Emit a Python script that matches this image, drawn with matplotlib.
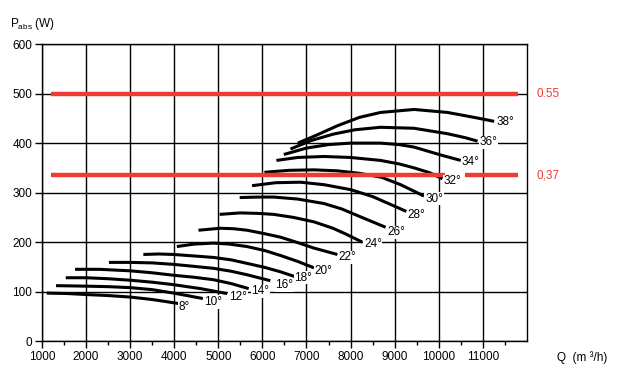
import matplotlib
matplotlib.use("Agg")
import matplotlib.pyplot as plt
from matplotlib.ticker import MultipleLocator

plt.rcParams['font.family'] = ['Liberation Sans', 'DejaVu Sans']
plt.rcParams['mathtext.fontset'] = 'custom'
plt.rcParams['mathtext.rm'] = 'Liberation Sans'

# blade angle curves: Q (m3/h) and absorbed power (W)
angles = ['8°', '10°', '12°', '14°', '16°', '18°', '20°', '22°', '24°', '26°',
          '28°', '30°', '32°', '34°', '36°', '38°']
curve_q = [
    [1110, 1600, 2015, 2500, 3000, 3500, 3800, 4090],
    [1320, 2000, 2500, 3000, 3500, 3984, 4350, 4650],
    [1540, 2000, 2500, 3000, 3500, 3984, 4600, 5200],
    [1750, 2300, 3000, 3500, 3984, 4450, 4893, 5300, 5690],
    [2520, 3000, 3500, 3984, 4450, 4893, 5300, 5652, 6180],
    [3300, 3650, 3984, 4450, 4893, 5300, 5652, 6050, 6409, 6750],
    [4060, 4450, 4893, 5250, 5652, 6050, 6409, 6800, 7170],
    [4550, 5045, 5350, 5652, 6050, 6409, 6800, 7166, 7700],
    [5030, 5500, 5900, 6257, 6700, 7166, 7600, 7900, 8265],
    [5485, 5900, 6257, 6800, 7393, 7800, 8200, 8795],
    [5766, 6300, 6864, 7400, 8000, 8500, 8910, 9265],
    [6045, 6600, 7166, 7700, 8200, 8700, 9136, 9666],
    [6318, 6800, 7393, 8000, 8682, 9100, 9440, 9800, 10083],
    [6485, 7000, 7500, 8000, 8682, 9100, 9440, 10045, 10500],
    [6636, 7100, 7600, 8100, 8682, 9440, 10197, 10600, 10880],
    [6802, 7200, 7700, 8200, 8682, 9440, 10197, 10803, 11257],
]
curve_p = [
    [97, 96, 94, 92, 89, 84, 80, 76],
    [112, 111, 110, 108, 104, 97, 91, 86],
    [128, 128, 126, 123, 119, 114, 106, 96],
    [145, 145, 142, 138, 133, 129, 124, 116, 106],
    [159, 159, 158, 155, 151, 147, 141, 134, 122],
    [175, 176, 175, 172, 169, 164, 157, 149, 140, 130],
    [191, 196, 198, 196, 191, 183, 173, 161, 148],
    [224, 228, 227, 224, 217, 210, 199, 188, 175],
    [256, 259, 258, 256, 250, 241, 228, 216, 200],
    [290, 291, 291, 287, 278, 267, 252, 230],
    [314, 320, 321, 316, 306, 292, 276, 262],
    [341, 345, 346, 344, 339, 331, 316, 293],
    [365, 371, 373, 371, 365, 358, 350, 340, 328],
    [377, 390, 397, 400, 400, 397, 392, 376, 365],
    [388, 405, 418, 427, 432, 430, 419, 411, 404],
    [400, 415, 435, 452, 462, 468, 462, 452, 444],
]
label_q = [4227, 4880, 5447, 5955, 6500, 6925, 7393, 7925, 8507, 9039,
           9493, 9893, 10311, 10727, 11136, 11523]
label_p = [69, 79, 89, 101, 113, 128, 142, 169, 196, 220,
           255, 288, 323, 361, 402, 442]

# motor power limits (kW) as red lines
limit_labels = ['0.55', '0,37']
limit_p = [500, 335]
limit_segments = [[(1200, 11800)], [(1200, 10140), (10600, 11800)]]

red = '#ee3b33'

fig = plt.figure(figsize=(6.17, 3.74), dpi=100)
ax = fig.add_axes([0.068, 0.088, 0.786, 0.794])

ax.set_xlim(1000, 12000)
ax.set_ylim(0, 600)
ax.yaxis.set_major_locator(MultipleLocator(100))
ax.set_xticks(range(1000, 12000, 1000))
ax.set_xticks(range(1500, 12000, 1000), minor=True)
ax.grid(True, which='major', color='black', lw=1.0)
ax.tick_params(which='major', direction='out', length=5, width=1, labelsize=8.5, pad=2)
ax.tick_params(which='minor', direction='out', length=3, width=1)
for s in ax.spines.values():
    s.set_linewidth(1.0)

for lab, p, segs in zip(limit_labels, limit_p, limit_segments):
    for x0, x1 in segs:
        ax.plot([x0, x1], [p, p], color=red, lw=3.2, solid_capstyle='butt', zorder=4)
    ax.text(1.02, p, lab, transform=ax.get_yaxis_transform(), color=red,
            fontsize=8.5, va='center', ha='left')

for q, p in zip(curve_q, curve_p):
    ax.plot(q, p, color='black', lw=2.2, solid_capstyle='butt',
            solid_joinstyle='round', zorder=3)
for lab, q, p in zip(angles, label_q, label_p):
    ax.text(q, p, lab, fontsize=8.5, ha='center', va='center', zorder=5,
            bbox=dict(boxstyle='square,pad=0.05', fc='white', ec='none'))

fig.text(0.016, 0.915, r'P$_{\rm abs}$ (W)', fontsize=8.5, ha='left', va='bottom')
fig.text(0.985, 0.045, 'Q  (m ³/h)', fontsize=8.5, ha='right', va='center')

fig.savefig('out.png', dpi=100)
